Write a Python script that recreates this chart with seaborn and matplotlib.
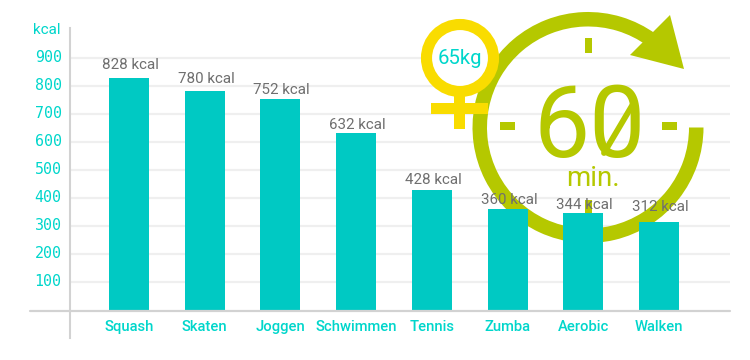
import matplotlib
matplotlib.use("Agg")
import matplotlib.pyplot as plt
import seaborn as sns
import pandas as pd
from matplotlib.patches import Wedge, Circle, Polygon, Rectangle
from matplotlib.lines import Line2D
from matplotlib.transforms import Affine2D, ScaledTranslation

sports = ["Squash", "Skaten", "Joggen", "Schwimmen", "Tennis", "Zumba", "Aerobic", "Walken"]
kcal = [828, 780, 752, 632, 428, 360, 344, 312]
y_ticks = [100, 200, 300, 400, 500, 600, 700, 800, 900]

TEAL = "#00c9c3"; TEAL_T = "#00d6cb"; GREEN = "#b5c800"; YEL = "#f9dc00"; GREY = "#6f6f6f"
sns.set_theme(style="white")
plt.rcParams["font.family"] = ["Roboto", "DejaVu Sans"]

W, H = 750, 360
fig = plt.figure(figsize=(7.5, 3.6), dpi=100, facecolor="white")
L, R, T, B = 70, 730, 28, 338
ax = fig.add_axes([L / W, 1 - B / H, (R - L) / W, (B - T) / H])

df = pd.DataFrame({"sport": sports, "kcal": kcal})
sns.barplot(data=df, x="sport", y="kcal", color=TEAL, saturation=1, width=40 / 75.7, ax=ax,
            zorder=5, linewidth=0, edgecolor="none")

ax.set_xlim((L - 129) / 75.7, (R - 129) / 75.7)
ax.set_ylim((309.8 - B) / 0.28, (309.8 - T) / 0.28)
ax.set_xlabel(""); ax.set_ylabel("")
ax.set_yticks(y_ticks)
ax.set_yticklabels([str(v) for v in y_ticks], family=["DejaVu Sans Mono"], fontsize=10.8, color=TEAL_T)
ax.tick_params(axis="y", length=0, pad=6)
ax.tick_params(axis="x", length=0, pad=-12.8, labelsize=10.6, labelcolor=TEAL_T)
for lab in ax.get_yticklabels():
    lab.set_transform(lab.get_transform() + ScaledTranslation(0, 1.5 / 72, fig.dpi_scale_trans))
for lab in ax.get_xticklabels():
    lab.set_fontweight("medium")
ax.set_axisbelow(True)
ax.yaxis.grid(True, color="#efefef", lw=1.6, zorder=0)
for s in ("top", "right", "bottom"):
    ax.spines[s].set_visible(False)
ax.spines["left"].set_color("#d2d2d2"); ax.spines["left"].set_linewidth(1.5)

# pixel space (y down) for the decorative pictogram
px = Affine2D().scale(1, -1).translate(0, H)
def add(p, z):
    p.set_transform(px); p.set_clip_on(False); p.set_zorder(z); ax.add_artist(p)

add(Line2D([30, 730], [311, 311], color="#d2d2d2", lw=1.6), 6)

# clock ring + arrow
add(Wedge((588, 127.5), 115.5, 0, 306, width=14.5, fc=GREEN, ec="none"), 2)
add(Polygon([(670, 15), (684, 69), (630, 55)], closed=True, fc=GREEN, ec="none"), 2)
for x, y, w, h in [(585, 38, 7, 15), (500, 122, 15, 8), (662, 122, 15, 8), (585, 200, 7, 15)]:
    add(Rectangle((x, y), w, h, fc=GREEN, ec="none"), 2)
add(Line2D([604, 633], [153, 104], color=GREEN, lw=4.2), 3)

# venus symbol
add(Rectangle((454, 95), 11, 34, fc=YEL, ec="none"), 3)
add(Rectangle((431, 103), 57, 11, fc=YEL, ec="none"), 3)
add(Circle((460, 58), 33.5, fc="white", ec=YEL, lw=8), 3)

def ptext(x, y, s, **kw):
    ax.text(x, y, s, transform=px, ha="center", va="center", clip_on=False, **kw)

ptext(590, 130, "60", fontsize=72, color=GREEN, zorder=3)
ptext(593, 178, "min.", fontsize=20, color=GREEN, zorder=3)
ptext(460, 59, "65kg", fontsize=14.6, color=TEAL_T, zorder=4)
ptext(47, 30, "kcal", fontsize=11, color=TEAL_T, zorder=4)

gaps = [13, 12, 9, 8, 10, 9, 8, 15]
for i, (v, g) in enumerate(zip(kcal, gaps)):
    ax.annotate(f"{v} kcal", (i, v), xytext=(1, g * 0.72), textcoords="offset points",
                ha="center", va="center", fontsize=10.9, color=GREY, zorder=7, annotation_clip=False)

fig.savefig("out.png", dpi=100)
